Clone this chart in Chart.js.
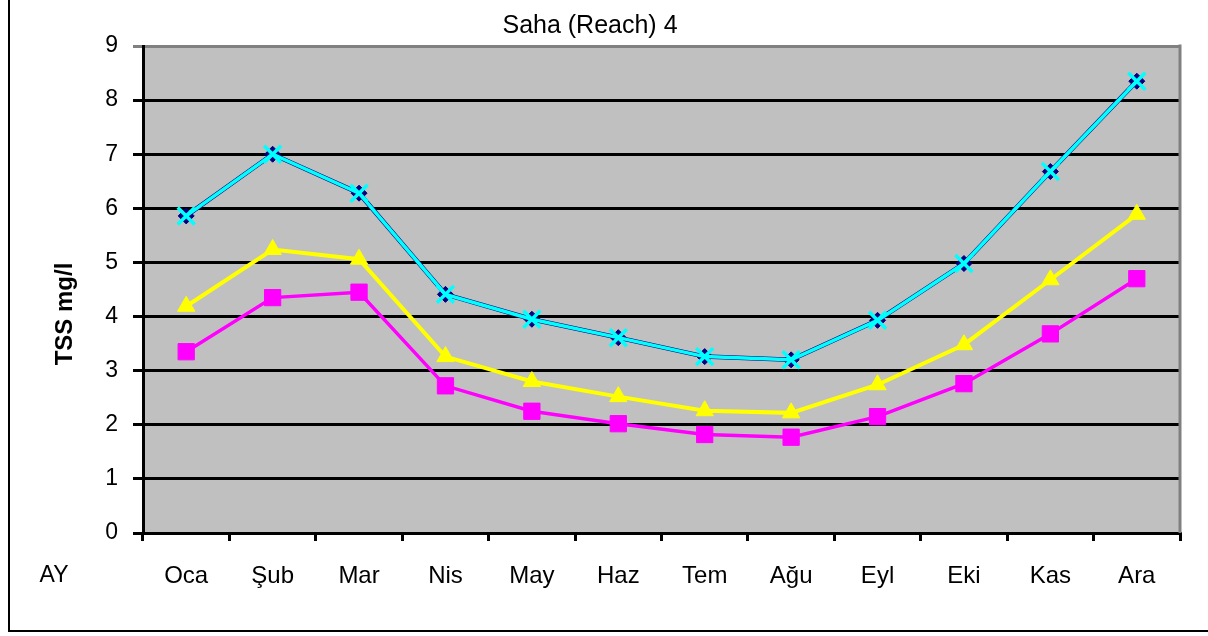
<!DOCTYPE html>
<html>
<head>
<meta charset="utf-8">
<script src="https://cdn.jsdelivr.net/npm/chart.js@4/dist/chart.umd.min.js"></script>
<style>
  html, body { margin: 0; padding: 0; background: #fff; }
  canvas { display: block; }
</style>
</head>
<body>
<canvas id="tss" width="1208" height="636"></canvas>
<script>
const months = ["Oca", "Şub", "Mar", "Nis", "May", "Haz", "Tem", "Ağu", "Eyl", "Eki", "Kas", "Ara"];
const navySeries = [5.86, 7.0, 6.28, 4.41, 3.95, 3.61, 3.26, 3.2, 3.93, 4.98, 6.68, 8.35];
const cyanSeries = [5.86, 7.0, 6.28, 4.41, 3.95, 3.61, 3.26, 3.2, 3.93, 4.98, 6.68, 8.35];
const yellowSeries = [4.19, 5.24, 5.06, 3.26, 2.8, 2.52, 2.26, 2.22, 2.74, 3.48, 4.68, 5.89];
const magentaSeries = [3.35, 4.35, 4.45, 2.72, 2.25, 2.02, 1.82, 1.77, 2.15, 2.76, 3.68, 4.7];
const yTicks = [0, 1, 2, 3, 4, 5, 6, 7, 8, 9];

const FONT = "'Liberation Sans', Arial, sans-serif";

// plot background, grey frame, outer border and the loose texts
const decor = {
  id: "decor",
  beforeDraw (chart) {
    const { ctx, chartArea: a } = chart;
    ctx.save();
    ctx.fillStyle = "#c0c0c0";
    ctx.fillRect(a.left, a.top, a.right - a.left, a.bottom - a.top);
    ctx.restore();
  },
  afterDraw (chart) {
    const { ctx, chartArea: a } = chart;
    ctx.save();
    ctx.strokeStyle = "#808080";
    ctx.lineWidth = 3;
    ctx.beginPath();
    ctx.moveTo(a.right, a.top - 1.5);
    ctx.lineTo(a.right, a.bottom);
    ctx.stroke();

    ctx.strokeStyle = "#000";
    ctx.lineWidth = 2;
    ctx.beginPath();
    ctx.moveTo(9, 0);
    ctx.lineTo(9, 631);
    ctx.lineTo(1208, 631);
    ctx.stroke();

    ctx.fillStyle = "#000";
    ctx.font = "23px " + FONT;
    ctx.textAlign = "center";
    ctx.textBaseline = "middle";
    ctx.fillText("AY", 54, 576);

    ctx.translate(65, 314);
    ctx.rotate(-Math.PI / 2);
    ctx.font = "bold 24px " + FONT;
    ctx.fillText("TSS mg/l", 0, 0);
    ctx.restore();
  }
};

new Chart(document.getElementById("tss"), {
  type: "line",
  data: {
    labels: months,
    datasets: [
      {
        data: cyanSeries,
        borderColor: "#00ffff",
        borderWidth: 3.5,
        pointStyle: "crossRot",
        pointRadius: 12,
        pointBorderWidth: 3.5,
        pointBorderColor: "#00ffff",
        pointBackgroundColor: "#00ffff"
      },
      {
        data: navySeries,
        borderColor: "#000080",
        borderWidth: 4.5,
        pointStyle: "rectRot",
        pointRadius: 8,
        pointBorderWidth: 1,
        pointBorderColor: "#000080",
        pointBackgroundColor: "#000080"
      },
      {
        data: yellowSeries,
        borderColor: "#ffff00",
        borderWidth: 4,
        pointStyle: "triangle",
        pointRadius: 10,
        pointBorderWidth: 1,
        pointBorderColor: "#ffff00",
        pointBackgroundColor: "#ffff00"
      },
      {
        data: magentaSeries,
        borderColor: "#ff00ff",
        borderWidth: 3.5,
        pointStyle: "rect",
        pointRadius: 11.5,
        pointBorderWidth: 1,
        pointBorderColor: "#ff00ff",
        pointBackgroundColor: "#ff00ff"
      }
    ]
  },
  options: {
    responsive: false,
    animation: false,
    layout: { padding: { left: 0, right: 28, top: 0, bottom: 0 } },
    plugins: {
      legend: { display: false },
      tooltip: { enabled: false },
      title: {
        display: true,
        text: "Saha (Reach) 4",
        color: "#000",
        font: { family: FONT, size: 25, weight: "normal" },
        padding: { top: 11, bottom: 5 }
      }
    },
    scales: {
      x: {
        offset: true,
        afterFit (scale) { scale.height = 103; },
        grid: {
          offset: true,
          drawOnChartArea: false,
          drawTicks: true,
          tickLength: 8,
          lineWidth: 3,
          color: "#000"
        },
        border: { display: true, color: "#000", width: 3 },
        ticks: {
          color: "#000",
          padding: 21,
          maxRotation: 0,
          font: { family: FONT, size: 24 }
        }
      },
      y: {
        min: 0,
        max: 9,
        afterFit (scale) { scale.width = 143; },
        afterBuildTicks (scale) { scale.ticks = yTicks.map(v => ({ value: v })); },
        grid: {
          lineWidth: 3,
          tickLength: 10,
          color: (c) => (c.tick && c.tick.value === 9 ? "#808080" : "#000")
        },
        border: { display: true, color: "#000", width: 3 },
        ticks: {
          color: "#000",
          padding: 15,
          font: { family: FONT, size: 23 }
        }
      }
    }
  },
  plugins: [decor]
});
</script>
</body>
</html>
